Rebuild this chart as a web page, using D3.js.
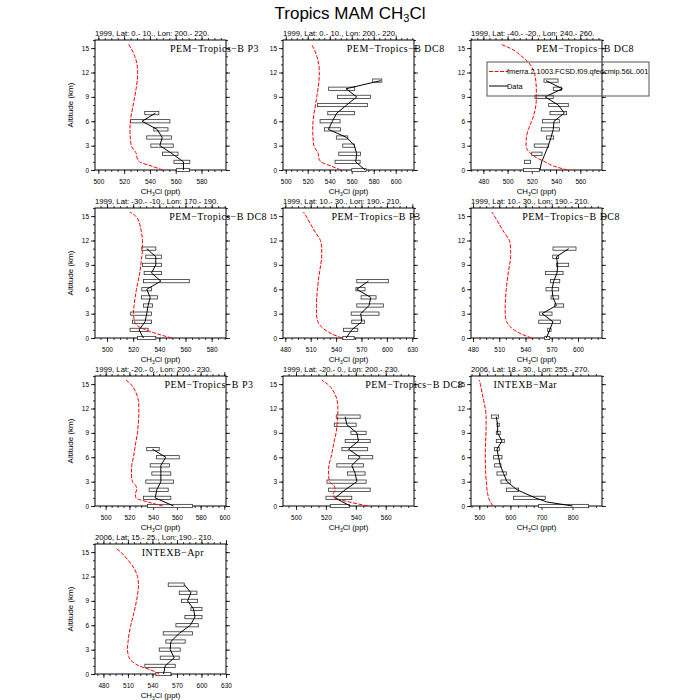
<!DOCTYPE html>
<html>
<head>
<meta charset="utf-8">
<script src="https://cdn.jsdelivr.net/npm/d3@7"></script>
<style>
  body { margin: 0; background: #fff; }
</style>
</head>
<body>
<div id="chart"></div>
<script>
// model levels (km), shared by every panel
var modelAlt = [0, 0.5, 1, 1.5, 2, 2.5, 3, 4, 5, 6, 7, 8, 9, 10, 11, 12, 13, 14, 15, 15.5];

var panelTitles = [
  "1999, Lat: 0.- 10., Lon: 200.- 220.",
  "1999, Lat: 0.- 10., Lon: 200.- 220.",
  "1999, Lat: -40.- -20., Lon: 240.- 260.",
  "1999, Lat: -30.- -10., Lon: 170.- 190.",
  "1999, Lat: 10.- 30., Lon: 190.- 210.",
  "1999, Lat: 10.- 30., Lon: 190.- 210.",
  "1999, Lat: -20.- 0., Lon: 200.- 230.",
  "1999, Lat: -20.- 0., Lon: 200.- 230.",
  "2006, Lat: 18.- 30., Lon: 255.- 270.",
  "2006, Lat: 15.- 25., Lon: 190.- 210."
];
var campaigns = [
  "PEM\u2212Tropics\u2212B P3", "PEM\u2212Tropics\u2212B DC8", "PEM\u2212Tropics\u2212B DC8",
  "PEM\u2212Tropics\u2212B DC8", "PEM\u2212Tropics\u2212B P3", "PEM\u2212Tropics\u2212B DC8",
  "PEM\u2212Tropics\u2212B P3", "PEM\u2212Tropics\u2212B DC8", "INTEXB\u2212Mar", "INTEXB\u2212Apr"
];
// where the campaign name sits, in ppt
var campaignX = [590, 600, 564, 585, 587, 592, 587, 579, 648, 565];

// x ranges and major tick step of each panel
var xDomains = [
  [497.4, 599], [497.5, 616.6], [469.8, 577.9], [490.8, 591], [477.3, 632],
  [477.7, 627.4], [491, 601.4], [491.3, 578.9], [473.3, 894.5], [469.7, 630]
];
var xSteps = [20, 20, 20, 20, 30, 30, 20, 20, 100, 30];
var yTicks = [0, 3, 6, 9, 12, 15];

// model CH3Cl (ppt) at modelAlt
var modelCH3Cl = [
  [550, 541, 532, 530, 529.5, 527.5, 525.5, 524.8, 524.5, 524.8, 525.8, 527, 528.2, 529.3, 530.2, 530.5, 530, 528.2, 525.3, 523.3],
  [550, 541, 532, 530, 529.5, 527.5, 525.5, 524.8, 524.5, 524.8, 525.8, 527, 528.2, 529.3, 530.2, 530.5, 530, 528.2, 525.3, 523.3],
  [549.5, 537.7, 530.9, 524, 519.3, 516.3, 515.2, 515.5, 517.1, 519.9, 522, 523.4, 523.7, 523.7, 523.2, 522, 518.5, 511.6, 502, 494],
  [549.6, 538.6, 529.6, 523.3, 521.2, 520.5, 520.2, 520.7, 521.5, 522.5, 523.8, 525, 525.8, 526.6, 527.1, 527.1, 526.3, 525, 522, 517.6],
  [547, 535, 527, 521.5, 518.5, 517.3, 516.8, 516.8, 517.2, 518, 519, 520.3, 521.8, 523, 523, 521.5, 515.5, 510, 504.5, 501.5],
  [547, 535, 527, 521.5, 518.5, 517.3, 516.8, 516.8, 517.2, 518, 519, 520.3, 521.8, 523, 523, 521.5, 515.5, 510, 504.5, 501.5],
  [548, 535.5, 525.5, 525, 526.2, 525.4, 522.5, 521.7, 522, 523.4, 524.5, 525.6, 526.8, 527.4, 527.9, 528, 527.5, 525.4, 521.1, 517.2],
  [548, 535.5, 525.5, 525, 526.2, 525.4, 522.5, 521.7, 522, 523.4, 524.5, 525.6, 526.8, 527.4, 527.9, 528, 527.5, 525.4, 521.1, 517.2],
  [543.9, 535.4, 530, 527, 524.6, 523.5, 522.5, 520.4, 519.8, 519.3, 519.5, 520.4, 521.4, 522, 522, 519.3, 513.9, 508.6, 503.2, 500.5],
  [548.3, 538, 523.7, 515.6, 511.5, 510, 509.4, 510.2, 511.5, 513.5, 516, 518.4, 520.5, 522.1, 522.9, 521.7, 517.6, 510.2, 501.3, 495.1]
];

// aircraft data: altitude (km), median and box edges (ppt)
var obsAlt = [
  [0, 1, 2, 3, 4, 5, 6, 7],
  [0, 1, 2, 3, 4, 5, 6, 7, 8, 9, 10, 11],
  [0, 1, 2, 3, 4, 5, 6, 7, 8, 9, 10, 11],
  [0, 1, 2, 3, 4, 5, 6, 7, 8, 9, 10, 11],
  [0, 1, 2, 3, 4, 5, 6, 7],
  [0, 1, 2, 3, 4, 5, 6, 7, 8, 9, 10, 11],
  [0, 1, 2, 3, 4, 5, 6, 7],
  [0, 1, 2, 3, 4, 5, 6, 7, 8, 9, 10, 11],
  [0, 0.5, 1, 2, 3, 4, 5, 6, 7, 8, 9, 10, 11],
  [0, 1, 2, 3, 4, 5, 6, 7, 8, 9, 10, 11]
];
var obsMedian = [
  [566, 566, 557.3, 547.7, 549.5, 545.6, 533.9, 544.3],
  [572.1, 563.6, 564.5, 562.4, 555.5, 538.8, 542.4, 546.4, 555.4, 564.5, 554.8, 586.4],
  [526.7, 528.1, 530.9, 533.6, 535.8, 537.7, 538.3, 546.8, 541.9, 530.9, 545.2, 531.7],
  [527.9, 524.5, 529.1, 530.4, 531.4, 533, 530.4, 541.2, 534, 537.3, 537.3, 530.4],
  [551.9, 558.5, 570.3, 569.1, 579, 580.9, 564.4, 578.2],
  [563.8, 567.6, 571.4, 558.9, 575.3, 571.4, 570.3, 572.2, 576, 576.8, 575.3, 589.3],
  [557.2, 541.7, 543.1, 546.5, 546.5, 546.5, 550.7, 539.4],
  [536.2, 526.2, 532.9, 540.7, 539.6, 537.3, 542.9, 535.1, 541.8, 540.7, 534, 532.9],
  [800, 717, 680, 621, 589, 578, 567.5, 562, 556.8, 572.9, 558.9, 558.9, 554.6],
  [553.6, 555.6, 566.6, 561.7, 562.6, 572.8, 586.3, 592, 590.3, 583, 587.1, 578.9]
];
var obsLow = [
  [560.7, 558.6, 549.8, 540.7, 537.5, 543, 525, 536],
  [560, 544.8, 548.2, 551.8, 546, 535.1, 531.2, 538.2, 528.8, 547, 539, 579],
  [513, 514, 519.9, 522, 532, 527.8, 528.7, 535, 533.9, 522.6, 537.7, 530],
  [523.3, 517.6, 519.4, 518.1, 527.9, 526.3, 526.6, 527.9, 528.4, 527.2, 529.6, 526.6],
  [547.9, 548.7, 558.5, 557.8, 564.4, 569.5, 563.3, 564.4],
  [561.9, 565.3, 555.1, 556.2, 573.3, 569.2, 563.4, 568.4, 562.7, 575.3, 571.1, 571.4],
  [535.2, 531.8, 536.6, 533.8, 538.9, 537.5, 542.8, 534.6],
  [522.9, 520, 521.8, 520.7, 534.4, 527.3, 535.1, 530.7, 532.9, 536.7, 525.6, 526.9],
  [690.7, null, 610, 586.8, 569.6, 556.8, 549.3, 546, 549.3, 554.6, 554.6, 556.8, 538.6],
  [544.2, 530.7, 549.5, 548.3, 556.4, 553.2, 568.7, 579.7, 587.1, 575.6, 572.8, 559.3]
];
var obsHigh = [
  [570.6, 570.9, 561.8, 558.1, 556.8, 554, 555.5, 546.9],
  [573, 567.6, 567.9, 562.4, 556.4, 549.7, 549.4, 562.4, 574.2, 577, 562.7, 587.3],
  [526.2, 519, 528.4, 533.9, 538, 542.7, 542.7, 548.7, 550.1, 537.7, 544.6, 541.6],
  [537.3, 531.4, 534, 534, 534.8, 538.6, 534, 562.9, 541.7, 541.7, 541.7, 537.3],
  [561.3, 565.6, 573.5, 590.7, 595.8, 587.2, 574.2, 601.7],
  [567.6, 569.2, 579.8, 570.3, 583.6, 577.9, 577.9, 579.1, 582.9, 589.3, 577.9, 597.7],
  [573.2, 554.9, 552.7, 557.2, 554.9, 553.8, 562, 545.1],
  [535.8, 537.3, 549.6, 546.9, 546.2, 545.1, 551.3, 547.8, 549.6, 546.9, 540.2, 542.9],
  [851.4, null, 712, 626.4, 599.6, 586.8, 569.6, 572.9, 564.3, 580.4, 567.5, 564.3, 562.1],
  [562.6, 567.9, 572.8, 574, 580.1, 589.1, 596.1, 600.6, 600.6, 595.3, 594.4, 578.9]
];
var legendLabels = ["fmerra.2.1003.FCSD.f09.qfedcmip.56L.001", "Data"];

var sans = "'Liberation Sans', Arial, sans-serif";
var plotW = 131, plotH = 130;
var colLeft = [95, 283, 471], rowTop = [40, 208, 376, 544];

var svg = d3
  .select("#chart")
  .append("svg")
  .attr("width", 700)
  .attr("height", 700)
  .style("background", "#fff");

// main title with subscript
var title = svg
  .append("text")
  .attr("x", 350)
  .attr("y", 19)
  .attr("text-anchor", "middle")
  .attr("font-family", sans)
  .attr("font-size", 17);
title.append("tspan").text("Tropics MAM CH");
title.append("tspan").attr("dy", 3).attr("font-size", 11).text("3");
title.append("tspan").attr("dy", -3).text("Cl");

function styleAxis(sel) {
  sel.select(".domain").remove();
  sel.selectAll("line").attr("stroke", "#000").attr("stroke-width", 0.8);
  sel
    .selectAll("text")
    .attr("font-family", sans)
    .attr("font-size", 6.5)
    .attr("fill", "#000");
}

panelTitles.forEach(function (t, i) {
  var col = i % 3,
    row = Math.floor(i / 3);
  var g = svg
    .append("g")
    .attr("transform", "translate(" + colLeft[col] + "," + rowTop[row] + ")");

  var x = d3.scaleLinear().domain(xDomains[i]).range([0, plotW]);
  var y = d3.scaleLinear().domain([0, 16]).range([plotH, 0]);

  var step = xSteps[i],
    d0 = xDomains[i][0],
    d1 = xDomains[i][1];
  var xMajor = d3.range(Math.ceil(d0 / step) * step, d1 + 1e-6, step);
  var xMinor = d3.range(Math.ceil(d0 / (step / 4)) * (step / 4), d1 + 1e-6, step / 4);
  var yMinor = d3.range(0, 16.001, 1);

  // ticks on all four sides, pointing out
  g.append("g").attr("transform", "translate(0," + plotH + ")")
    .call(d3.axisBottom(x).tickValues(xMinor).tickSize(2).tickFormat("")).call(styleAxis);
  g.append("g").attr("transform", "translate(0," + plotH + ")")
    .call(d3.axisBottom(x).tickValues(xMajor).tickSize(4).tickPadding(5).tickFormat(d3.format("d")))
    .call(styleAxis);
  g.append("g").call(d3.axisTop(x).tickValues(xMinor).tickSize(2).tickFormat("")).call(styleAxis);
  g.append("g").call(d3.axisTop(x).tickValues(xMajor).tickSize(4).tickFormat("")).call(styleAxis);
  g.append("g").call(d3.axisLeft(y).tickValues(yMinor).tickSize(2).tickFormat("")).call(styleAxis);
  g.append("g").call(d3.axisLeft(y).tickValues(yTicks).tickSize(4).tickPadding(2)).call(styleAxis);
  g.append("g").attr("transform", "translate(" + plotW + ",0)")
    .call(d3.axisRight(y).tickValues(yMinor).tickSize(2).tickFormat("")).call(styleAxis);
  g.append("g").attr("transform", "translate(" + plotW + ",0)")
    .call(d3.axisRight(y).tickValues(yTicks).tickSize(4).tickFormat("")).call(styleAxis);

  g.append("rect")
    .attr("width", plotW)
    .attr("height", plotH)
    .attr("fill", "none")
    .attr("stroke", "#000")
    .attr("stroke-width", 1);

  // boxes for the spread of the data
  var obs = obsAlt[i].map(function (a, k) {
    return { alt: a, med: obsMedian[i][k], lo: obsLow[i][k], hi: obsHigh[i][k] };
  });
  g.selectAll(".box")
    .data(obs.filter(function (d) { return d.lo != null; }))
    .join("rect")
    .attr("class", "box")
    .attr("x", function (d) { return x(d.lo); })
    .attr("y", function (d) { return y(d.alt + 0.2); })
    .attr("width", function (d) { return x(d.hi) - x(d.lo); })
    .attr("height", function (d) { return y(d.alt - 0.2) - y(d.alt + 0.2); })
    .attr("fill", "#fff")
    .attr("stroke", "#333")
    .attr("stroke-width", 0.8);

  // model profile
  var model = modelAlt.map(function (a, k) {
    return { alt: a, v: modelCH3Cl[i][k] };
  });
  g.append("path")
    .datum(model)
    .attr("fill", "none")
    .attr("stroke", "#ff0000")
    .attr("stroke-width", 1)
    .attr("stroke-dasharray", "4,1.5")
    .attr("d", d3.line().curve(d3.curveMonotoneY)
      .x(function (d) { return x(d.v); })
      .y(function (d) { return y(d.alt); }));

  // data median
  g.append("path")
    .datum(obs)
    .attr("fill", "none")
    .attr("stroke", "#000")
    .attr("stroke-width", 1)
    .attr("d", d3.line()
      .x(function (d) { return x(d.med); })
      .y(function (d) { return y(d.alt); }));

  // panel strings
  g.append("text")
    .attr("x", 0)
    .attr("y", -4)
    .attr("font-family", sans)
    .attr("font-size", 7.7)
    .text(t);

  var xl = g
    .append("text")
    .attr("x", plotW / 2)
    .attr("y", plotH + 24)
    .attr("text-anchor", "middle")
    .attr("font-family", sans)
    .attr("font-size", 7.8);
  xl.append("tspan").text("CH");
  xl.append("tspan").attr("dy", 2).attr("font-size", 5).text("3");
  xl.append("tspan").attr("dy", -2).text("Cl (ppt)");

  if (col == 0) {
    g.append("text")
      .attr("transform", "translate(-22," + plotH / 2 + ") rotate(-90)")
      .attr("text-anchor", "middle")
      .attr("font-family", sans)
      .attr("font-size", 8)
      .text("Altitude (km)");
  }

  g.append("text")
    .attr("x", x(campaignX[i]))
    .attr("y", y(15))
    .attr("dy", "0.35em")
    .attr("text-anchor", "middle")
    .attr("font-family", "'Liberation Serif', 'Times New Roman', serif")
    .attr("font-size", 10)
    .attr("letter-spacing", 0.45)
    .text(campaigns[i]);

  // legend lives in the third panel only
  if (i == 2) {
    var lg = g.append("g").attr("transform", "translate(16,22)");
    lg.append("rect")
      .attr("width", 162)
      .attr("height", 34)
      .attr("fill", "none")
      .attr("stroke", "#555")
      .attr("stroke-width", 1);
    legendLabels.forEach(function (lab, k) {
      var ly = 9.5 + k * 14.5;
      lg.append("line")
        .attr("x1", 2)
        .attr("x2", 21)
        .attr("y1", ly)
        .attr("y2", ly)
        .attr("stroke", k == 0 ? "#ff0000" : "#000")
        .attr("stroke-width", 1)
        .attr("stroke-dasharray", k == 0 ? "4,1.5" : null);
      lg.append("text")
        .attr("x", 20)
        .attr("y", ly)
        .attr("dy", "0.35em")
        .attr("font-family", sans)
        .attr("font-size", 7.4)
        .text(lab);
    });
  }
});
</script>
</body>
</html>
